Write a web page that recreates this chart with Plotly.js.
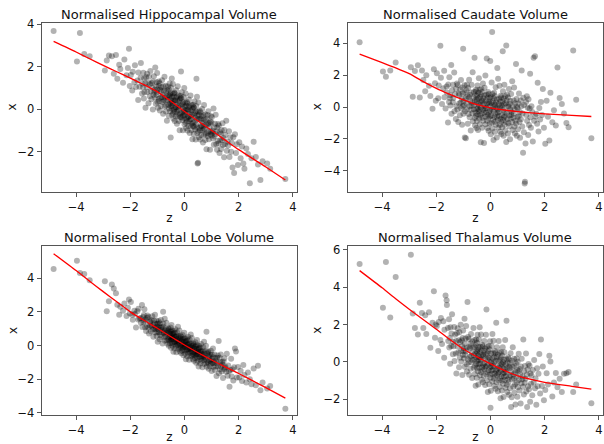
<!DOCTYPE html>
<html><head><meta charset="utf-8">
<script src="https://cdn.plot.ly/plotly-3.0.1.min.js"></script>
<style>html,body{margin:0;padding:0;background:#fff}#plot{width:604px;height:444px}</style>
</head><body><div id="plot"></div>
<script>
// shared latent variable z (one value per subject)
const z = [
-4.83,-3.97,-3.86,-3.70,-3.50,
-2.94,-2.87,-2.79,-2.68,-2.61,-2.53,
-2.48,-2.41,-2.37,-2.27,-2.22,-2.14,-2.09,-2.05,-2.02,
-1.98,-1.93,-1.91,-1.85,-1.83,-1.79,-1.74,-1.71,-1.70,-1.66,-1.62,-1.61,-1.57,-1.56,-1.53,-1.52,-1.50,
-1.49,-1.48,-1.45,-1.44,-1.42,-1.39,-1.38,-1.37,-1.34,-1.33,-1.31,-1.28,-1.27,-1.26,-1.24,-1.22,-1.21,-1.19,-1.17,-1.16,-1.15,-1.13,-1.12,-1.10,-1.09,-1.08,-1.06,-1.05,-1.04,-1.03,-1.02,-1.01,-1.00,
-0.99,-0.98,-0.96,-0.95,-0.95,-0.94,-0.92,-0.91,-0.90,-0.88,-0.87,-0.87,-0.85,-0.84,-0.83,-0.81,-0.80,-0.79,-0.78,-0.77,-0.76,-0.74,-0.73,-0.72,-0.72,-0.70,-0.69,-0.68,-0.67,-0.66,-0.65,-0.63,-0.62,-0.61,-0.60,-0.59,-0.58,-0.58,-0.57,-0.56,-0.55,-0.54,-0.53,-0.53,-0.52,-0.51,-0.51,-0.50,-0.50,-0.49,
-0.48,-0.48,-0.47,-0.46,-0.46,-0.45,-0.44,-0.44,-0.43,-0.42,-0.41,-0.41,-0.40,-0.39,-0.38,-0.38,-0.37,-0.36,-0.35,-0.35,-0.34,-0.33,-0.32,-0.31,-0.31,-0.30,-0.29,-0.28,-0.27,-0.27,-0.26,-0.25,-0.24,-0.23,-0.23,-0.22,-0.21,-0.20,-0.19,-0.19,-0.18,-0.17,-0.16,-0.15,-0.15,-0.14,-0.13,-0.12,-0.11,-0.11,-0.10,-0.09,-0.08,-0.07,-0.07,-0.06,-0.05,-0.04,-0.03,-0.03,-0.02,-0.01,-0.01,0.00,
0.01,0.01,0.02,0.03,0.04,0.04,0.05,0.06,0.07,0.07,0.08,0.09,0.10,0.11,0.11,0.12,0.13,0.14,0.15,0.15,0.16,0.17,0.18,0.19,0.19,0.20,0.21,0.22,0.23,0.23,0.24,0.25,0.26,0.27,0.27,0.28,0.29,0.30,0.31,0.31,0.32,0.33,0.34,0.35,0.35,0.36,0.37,0.38,0.39,0.39,0.40,0.41,0.42,0.43,0.43,0.44,0.45,0.46,0.46,0.47,0.48,0.48,0.49,0.50,
0.51,0.51,0.52,0.53,0.54,0.55,0.56,0.57,0.58,0.58,0.59,0.60,0.61,0.62,0.63,0.64,0.65,0.66,0.67,0.68,0.69,0.70,0.71,0.72,0.72,0.73,0.74,0.76,0.77,0.78,0.79,0.80,0.81,0.82,0.84,0.85,0.86,0.87,0.88,0.89,0.90,0.91,0.92,0.94,0.95,0.96,0.97,0.98,0.99,1.00,
1.01,1.03,1.04,1.05,1.07,1.08,1.09,1.11,1.12,1.14,1.15,1.17,1.18,1.20,1.21,1.23,1.24,1.26,1.27,1.29,1.31,1.32,1.34,1.35,1.37,1.39,1.40,1.42,1.44,1.46,1.47,1.49,
1.51,1.54,1.56,1.59,1.61,1.64,1.66,1.69,1.72,1.74,1.77,1.80,1.83,1.86,1.90,1.93,1.97,
2.02,2.07,2.12,2.17,2.21,2.28,2.34,2.41,2.47,
2.55,2.63,2.71,2.80,2.88,3.05,3.16,
3.72];

// Normalised Hippocampal Volume
const xHippocampal = [
3.69,2.25,3.6,2.6,2.5,
1.83,2.3,2.53,2.5,1.67,2.56,
1.44,2.1,1.9,1.25,2.35,1.6,1.95,2.85,1.1,
1.62,0.89,1.77,1.28,2.07,1.05,1.36,0.44,1.74,1.06,1.49,2.18,0.75,1.2,1.03,1.72,0.51,
1.45,0.8,1.23,0.07,1.51,1.04,1.68,0.82,1.25,0.29,1.53,0.61,1.18,1.8,0.85,0.47,1.24,1.03,-0.01,1.31,0.69,1.56,0.82,0.92,0.55,1.97,0.26,1.08,0.67,1.27,0.8,1.71,0.34,
0.94,0.07,1.11,0.5,1.31,0.39,1.23,-0.06,0.93,0.56,0.86,0.16,1.04,0.58,1.37,0.35,0.69,-0.21,1.08,0.42,0.86,1.54,0.13,0.57,0.42,1.11,-0.1,0.84,0.18,0.62,-0.54,0.89,0.44,1.08,0.22,0.66,-0.3,0.95,0.04,0.61,1.22,0.29,-0.09,0.69,0.48,-1.33,0.77,0.15,1.03,0.29,
0.39,0.03,1.45,-0.26,0.57,0.15,0.75,0.29,1.19,-0.18,0.42,-0.44,0.61,-0.01,0.79,-0.12,0.74,-0.55,0.44,0.09,0.38,-0.33,0.56,0.1,0.9,-0.11,0.23,-0.68,0.61,-0.04,0.4,1.09,-0.32,0.12,-0.03,0.66,-0.55,0.39,-0.27,0.18,-0.98,0.46,-0.2,0.64,-0.36,0.53,1.78,0.52,-0.39,0.19,0.8,-0.14,-0.52,0.25,0.05,-0.99,0.33,-0.29,0.58,-0.15,-0.05,-0.42,1.01,-0.7,
0.12,-0.29,0.31,-0.16,0.74,-0.62,-0.02,-0.88,0.17,-0.44,0.36,-0.56,0.29,-1.0,0.0,-0.36,-0.07,-0.78,0.11,-0.34,0.46,-0.55,-0.21,-1.12,0.18,-0.48,-0.04,0.65,-0.76,-0.31,-0.47,0.22,-0.98,-0.04,-0.69,-0.25,-1.41,0.03,-0.63,0.22,-0.79,0.1,-1.16,0.08,-0.82,-0.24,0.37,-0.57,-0.95,-0.17,-0.38,-1.42,-0.1,-0.72,0.16,1.44,-0.48,-0.84,0.59,-1.12,-0.3,-2.55,-0.11,-2.52,
0.32,-1.04,-0.44,-1.31,-0.26,-0.88,-0.07,-0.99,-0.14,-1.42,-0.43,-0.79,-0.5,-1.21,-0.32,-0.78,0.01,-0.99,-0.65,-1.56,-0.27,-0.93,-0.49,0.2,-1.2,-0.76,-0.92,-0.23,-1.44,-0.5,-1.16,-0.72,-1.88,-0.44,-1.11,-0.27,-1.27,-0.7,-0.09,-1.03,-1.41,-0.64,-0.85,-1.9,-0.58,-1.19,-0.32,-1.06,-0.61,-1.23,
-0.36,-1.11,-1.01,-1.38,0.04,-1.67,-0.85,-1.28,-0.68,-1.16,-0.26,-1.63,-1.03,-1.91,-0.86,-1.49,-0.69,-1.61,-0.76,-2.06,-1.08,-1.44,-1.16,-1.87,-0.98,-1.45,-0.66,-1.68,-1.35,-2.26,-0.97,-1.64,
-1.21,-0.54,-1.95,-1.53,-1.7,-1.03,-2.24,-1.32,-2.0,-1.57,-2.74,-1.32,-3.0,-1.17,-2.06,-1.64,-2.62,
-1.55,-2.3,-1.75,-2.55,-2.8,-1.84,-2.1,-3.48,-2.3,
-1.53,-2.24,-2.6,-3.33,-2.45,-2.55,-2.8,
-3.28];

// Normalised Caudate Volume
const xCaudate = [
4.08,2.23,1.9,2.3,2.8,
2.5,0.65,2.27,2.63,0.61,2.3,
1.7,1.0,2.0,1.34,0.7,-0.11,2.38,1.5,0.4,
2.12,0.56,1.35,3.85,1.84,0.19,1.19,2.29,0.62,-0.09,1.29,0.92,-0.96,1.42,0.32,1.88,0.57,
0.74,0.1,2.65,-0.42,1.06,0.31,1.4,0.57,2.18,-0.26,0.82,-0.74,1.15,0.06,1.49,-0.15,1.39,-0.93,0.86,0.23,0.76,-0.51,1.1,0.28,1.71,-0.09,0.53,-1.1,1.23,0.06,0.86,3.67,-0.41,
0.39,0.12,1.37,-1.9,0.91,-0.26,0.54,-1.95,1.06,0.24,1.41,-0.12,0.68,-1.04,1.2,-0.43,0.61,1.72,0.05,-0.63,0.77,0.39,-1.46,0.92,-0.17,1.4,0.09,0.27,-0.38,2.19,-0.88,0.6,-0.13,0.95,0.13,3.1,-0.69,0.4,-1.15,0.74,-0.35,1.09,-0.54,1.0,-1.31,0.49,-0.14,0.39,-0.87,0.74,
-0.08,1.36,-0.44,0.19,-1.43,0.91,-0.26,0.55,1.81,-0.71,0.1,-0.17,1.09,-1.07,0.64,-0.53,0.28,-2.2,0.77,-0.04,1.13,-0.4,0.41,-1.3,0.95,-0.67,0.37,1.49,-0.18,-0.85,0.55,0.19,-2.25,0.73,-0.36,1.22,-0.09,0.05,-0.59,1.98,-1.08,0.41,-0.32,0.77,-0.05,3.05,-0.86,0.23,-1.31,0.59,-0.5,0.95,-0.68,0.82,-1.48,0.32,-0.31,0.23,-1.03,0.59,-0.22,2.9,-0.58,0.05,
-1.7,0.64,-0.53,0.28,1.54,-0.98,-0.17,4.72,0.82,-1.34,0.37,-0.8,0.01,-2.06,0.55,-0.26,0.91,-0.62,0.16,-1.55,0.7,-0.92,0.12,1.24,-0.43,-1.1,0.3,-0.06,-1.91,0.48,-0.61,2.45,-0.34,-0.15,-0.79,1.78,-1.28,0.17,-0.56,0.53,-0.29,1.34,-1.1,-0.01,-1.55,0.35,-0.74,0.71,-0.92,0.62,-1.68,0.12,-0.51,0.0,-1.26,0.36,3.5,0.99,-0.81,-0.18,-1.8,0.54,-0.63,0.18,
1.41,-1.11,-0.3,-0.57,0.69,-1.47,0.24,-0.93,3.87,-2.19,0.42,-0.39,0.78,-0.75,0.06,-1.65,0.6,-1.02,0.02,1.14,-0.53,-1.2,0.2,-0.16,-2.01,0.38,-0.71,0.82,-0.49,-0.3,-0.94,1.63,-1.43,0.06,-0.67,0.42,-0.4,1.23,-1.21,-0.12,-1.66,0.24,-0.85,2.7,-1.03,0.51,-1.79,0.01,-0.62,-0.08,
-1.39,0.23,-0.58,0.86,-0.94,-0.31,-1.93,0.41,-0.76,0.05,2.3,-1.21,-0.4,-2.86,0.59,-1.57,0.14,-4.8,-4.68,-2.29,0.32,-0.49,0.68,-0.85,-0.04,-1.75,0.5,-1.12,-0.09,2.1,-0.63,-1.3,
0.05,-0.31,-2.16,3.1,-0.86,3.2,-0.59,-0.41,-1.04,1.53,-1.53,-0.05,-0.77,0.32,-0.5,1.13,-1.3,
-2.3,0.4,-0.6,-2.09,0.9,-0.95,-0.2,-1.15,2.48,
0.57,0.2,-0.4,-1.0,-1.26,3.56,0.47,
-1.95];

// Normalised Frontal Lobe Volume
const xFrontal = [
4.55,5.03,4.31,4.25,3.88,
3.82,2.03,2.63,3.62,3.38,3.1,
2.42,1.83,2.3,2.07,2.5,1.75,2.25,2.73,1.9,
2.59,1.83,1.53,2.06,1.89,1.07,2.03,1.54,2.19,1.6,1.64,1.36,2.41,1.1,1.7,1.39,1.82,
1.47,2.15,1.09,1.54,0.87,1.65,1.18,1.78,1.06,1.7,0.71,1.44,1.17,1.38,0.84,1.51,1.15,1.74,0.96,1.22,0.52,1.49,0.99,1.31,1.83,0.77,1.09,0.97,1.49,0.57,1.28,0.77,1.11,
0.22,1.31,0.95,1.44,0.79,1.12,0.38,1.32,0.63,1.04,1.51,0.8,0.5,1.08,0.92,0.12,1.12,2.0,1.3,0.74,0.81,0.51,1.59,0.28,0.91,0.59,1.03,0.68,1.36,0.32,0.77,0.1,0.89,0.42,1.02,0.32,0.96,-0.01,0.74,0.47,0.68,0.14,0.82,0.47,1.07,0.3,0.57,-0.13,0.86,0.36,
0.69,1.22,0.15,0.48,0.37,0.89,-0.03,0.69,0.18,0.52,-0.37,0.73,0.38,0.87,0.21,0.55,-0.18,0.76,0.07,0.5,0.97,0.25,-0.04,0.54,0.39,-0.4,0.6,0.13,0.78,0.23,0.3,0.03,1.11,-0.2,0.43,0.12,0.56,0.21,0.89,-0.14,0.31,-0.35,0.44,-0.03,0.58,-0.12,0.52,-0.46,0.29,0.03,0.24,-0.3,0.38,0.02,0.63,-0.14,0.12,-0.58,0.4,-0.09,0.24,0.76,-0.3,0.03,
-0.09,0.44,-0.48,0.23,-0.28,0.07,-0.82,0.27,-0.07,0.43,-0.23,0.1,-0.63,0.31,-0.37,0.05,0.52,-0.2,-0.49,0.1,-0.06,-0.85,0.15,-0.31,0.35,-0.21,-0.14,-0.42,0.66,-0.64,-0.02,-0.33,0.11,-0.24,0.45,-0.59,-0.14,-0.8,-0.01,-0.47,0.14,-0.56,0.08,-0.9,-0.14,-0.41,-0.2,-0.74,-0.06,-0.41,0.19,-0.58,-0.32,-1.02,-0.03,-0.52,-0.19,0.33,-0.73,-0.4,-0.52,0.01,-0.91,-0.2,
-0.71,-0.36,-1.25,-0.16,-0.5,-0.01,-0.67,-0.34,-1.07,-0.12,-0.81,-0.39,0.09,-0.63,-0.92,-0.34,-0.5,-1.29,-0.29,-0.75,-0.1,-0.66,-0.59,-0.87,0.22,-1.09,-0.47,-0.78,-0.34,-0.69,-0.01,-1.05,0.82,-1.26,-0.47,-0.94,-0.34,-1.04,-0.4,-1.37,-0.62,-0.89,-0.68,-1.23,-0.55,-0.91,-0.31,-1.07,-0.81,-1.51,
-0.53,-1.03,-0.7,-0.18,-1.26,-0.93,-1.04,-0.53,-1.45,-0.74,-1.25,-0.92,-1.81,-0.72,-1.07,-0.59,-1.25,0.27,-1.65,-0.72,-1.41,-0.99,-0.53,-1.25,-1.54,-0.97,-1.13,-1.92,-0.94,-1.41,-0.76,-1.32,
-1.26,-1.55,-0.48,-1.8,-1.19,-1.52,-2.44,-1.45,-0.79,-1.83,-1.4,-2.07,-1.29,-0.17,-0.35,-1.9,-1.28,
-1.9,-1.5,-2.1,-1.16,-1.75,-2.2,-1.6,-2.0,-2.3,
-1.36,-2.35,-1.2,-2.65,-2.2,-2.55,-2.4,
-3.75];

// Normalised Thalamus Volume
const xThalamus = [
5.24,2.9,5.34,2.37,4.54,
5.73,2.59,1.82,1.47,3.16,2.62,
1.82,2.5,1.5,2.65,0.76,2.1,3.78,1.3,2.0,
1.92,0.58,2.14,1.18,2.35,0.96,2.17,0.23,1.72,3.55,3.3,3.05,1.81,1.12,2.28,0.77,1.28,
-0.09,1.86,0.85,1.52,2.55,0.41,1.08,0.84,1.87,0.05,1.46,0.45,1.12,-0.62,1.53,0.83,1.8,0.5,1.16,-0.28,1.59,0.22,1.07,1.99,0.59,0.02,1.16,0.85,-0.7,1.28,0.37,1.68,0.58,
0.72,0.18,2.31,-0.25,0.99,0.38,1.26,0.57,1.92,-0.12,0.77,-0.51,3.2,0.15,1.34,-0.03,1.23,-0.69,0.81,0.27,0.72,-0.36,0.99,0.3,1.5,-0.01,0.51,-0.86,1.09,0.1,0.78,1.81,-0.31,0.36,0.12,1.18,-0.64,0.79,-0.2,0.47,-1.27,0.9,0.22,1.2,-0.09,0.58,-0.85,1.02,-0.33,0.52,
1.46,0.07,-0.5,0.65,0.35,-1.2,0.79,-0.11,1.2,0.1,0.24,-0.29,1.85,-0.71,0.52,-0.08,0.81,0.13,1.47,-0.55,0.34,-0.95,0.63,-0.28,0.92,-0.44,0.82,-1.09,0.4,-0.13,0.32,-0.74,0.61,-0.08,1.12,-0.39,0.14,-1.23,0.72,-0.26,0.41,1.46,-0.66,2.8,-0.22,0.83,-0.98,0.44,-0.55,0.13,-1.61,0.57,-0.12,0.85,-0.43,0.24,-1.19,0.68,-0.68,0.18,1.11,-0.28,-0.84,-2.45,
0.0,-1.54,0.45,-0.46,0.85,-0.24,-0.1,-0.63,1.5,-1.05,0.18,-0.42,0.47,-0.22,1.13,-0.89,0.0,-1.29,0.28,-0.62,0.58,-0.78,0.48,-1.43,0.07,-0.47,2.1,-1.08,0.27,-0.41,0.78,-0.73,-0.2,-1.57,0.39,-0.6,0.08,1.12,-1.0,-0.32,-0.55,0.5,-1.32,0.1,-0.88,-0.2,-1.94,0.23,-0.45,0.53,-0.76,-0.09,-1.52,0.35,-1.0,-0.15,0.78,-0.61,-1.17,-0.02,-0.33,-1.87,0.12,-0.79,
0.52,-0.57,-0.42,-0.96,1.18,-1.38,-0.14,-0.75,0.14,-0.54,2.2,-1.22,-0.32,-1.61,-0.04,-0.94,0.25,-1.1,0.16,-1.75,-0.26,-0.8,-0.34,-1.41,-0.05,-0.73,0.46,-2.4,-0.53,-1.89,0.06,-0.92,-0.25,0.79,-1.33,-0.65,-0.89,0.17,-1.65,-0.22,-1.21,-0.54,-2.27,-0.1,-0.79,0.19,-1.1,-0.43,-1.86,0.01,
-1.35,-0.5,0.44,-0.96,-1.53,-0.37,-0.67,-2.22,-0.24,-1.14,0.17,-0.93,-0.78,-1.32,1.2,-1.74,-0.5,-1.11,-0.21,-0.9,0.45,-1.58,-0.69,-2.4,-0.4,-1.3,-0.11,-1.46,-0.2,-2.12,-0.62,-1.16,
-0.73,-1.78,-0.43,-1.1,0.1,-1.4,-0.88,-2.28,-0.33,-1.3,-0.63,0.43,-1.68,1.2,-1.29,-0.24,-2.04,
-1.5,-0.6,-1.2,0.33,0.03,-1.84,-1.1,-0.59,-1.35,
-0.9,-1.6,-0.63,-0.6,-0.54,-1.6,-1.2,
-2.2];

// smoothed fit (red line), one knot list per panel
const curveZ = [-4.83,-4,-3.5,-3,-2.5,-2,-1.5,-1,-0.5,0,0.5,1,1.5,2,3,3.72];
const fitHippocampal = [3.2,2.7,2.38,2.07,1.77,1.47,1.16,0.82,0.38,-0.1,-0.55,-1.0,-1.45,-1.9,-2.72,-3.33];
const fitCaudate = [3.33,2.8,2.47,2.1,1.62,1.18,0.8,0.45,0.15,-0.05,-0.18,-0.28,-0.36,-0.42,-0.52,-0.59];
const fitFrontal = [5.45,4.45,3.82,3.2,2.6,2.0,1.5,1.03,0.52,0.03,-0.43,-0.86,-1.27,-1.66,-2.5,-3.12];
const fitThalamus = [4.88,3.96,3.38,2.82,2.28,1.75,1.2,0.69,0.27,-0.1,-0.45,-0.74,-0.93,-1.09,-1.3,-1.45];

const titles = ['Normalised Hippocampal Volume','Normalised Caudate Volume','Normalised Frontal Lobe Volume','Normalised Thalamus Volume'];
const xs = [xHippocampal, xCaudate, xFrontal, xThalamus];
const fits = [fitHippocampal, fitCaudate, fitFrontal, fitThalamus];

const FONT = 'DejaVu Sans, Arial, sans-serif';
const data = [];
xs.forEach((xv, i) => {
  const n = Math.min(z.length, xv.length);
  const ax = i === 0 ? '' : String(i + 1);
  data.push({type:'scatter', mode:'markers', x: z.slice(0,n), y: xv.slice(0,n),
    xaxis:'x'+ax, yaxis:'y'+ax, hoverinfo:'skip',
    marker:{color:'rgba(0,0,0,0.3)', size:6, line:{width:0}}});
  data.push({type:'scatter', mode:'lines', x: curveZ, y: fits[i],
    xaxis:'x'+ax, yaxis:'y'+ax, hoverinfo:'skip',
    line:{color:'#ff0000', width:1.3, shape:'spline', smoothing:0.6}});
});

const W = 604, H = 444;
const colX = [[41.7, 297], [347.7, 603]];
const rowY = [[22.7, 191.7], [246.3, 415.3]];
const yLabelX = [12.3, 317];
const yRanges = [[-3.88, 4.08], [-5.31, 5.3], [-4.14, 5.89], [-2.85, 6.18]];
const yTicks = [[-2,0,2,4], [-4,-2,0,2,4], [-4,-2,0,2,4], [-2,0,2,4,6]];

const layout = {
  width: W, height: H, margin:{l:0, r:0, t:0, b:0},
  paper_bgcolor:'#fff', plot_bgcolor:'#fff', showlegend:false,
  font:{family:FONT, color:'#000', size:11.5},
  annotations: []
};
for (let i = 0; i < 4; i++) {
  const c = colX[i % 2], r = rowY[Math.floor(i / 2)];
  const ax = i === 0 ? '' : String(i + 1);
  const common = {showline:true, mirror:true, linecolor:'#555', linewidth:1,
    ticks:'outside', ticklen:4, tickwidth:1, tickcolor:'#555',
    showgrid:false, zeroline:false, tickfont:{family:FONT, size:11.5, color:'#111'}};
  layout['xaxis'+ax] = Object.assign({}, common, {
    domain:[c[0]/W, c[1]/W], range:[-5.27, 4.15], tickvals:[-4,-2,0,2,4],
    anchor:'y'+ax, title:{text:'z', font:{family:FONT, size:12, color:'#111'}, standoff:1}});
  layout['yaxis'+ax] = Object.assign({}, common, {
    domain:[1 - r[1]/H, 1 - r[0]/H], range:yRanges[i], tickvals:yTicks[i],
    anchor:'x'+ax});
  // y-axis label "x" (rotated, as in the original)
  layout.annotations.push({text:'x', xref:'paper', yref:'paper', textangle:-90,
    x:yLabelX[i % 2]/W, y:1 - (r[0]+r[1])/2/H, xanchor:'center', yanchor:'middle',
    showarrow:false, font:{family:FONT, size:12, color:'#111'}});
  layout.annotations.push({text:titles[i], xref:'paper', yref:'paper',
    x:(c[0]+c[1])/2/W, y:1 - (r[0]-8.5)/H, xanchor:'center', yanchor:'middle',
    showarrow:false, font:{family:FONT, size:13, color:'#111'}});
}
Plotly.newPlot('plot', data, layout, {staticPlot:true, displayModeBar:false});
</script>
</body></html>
